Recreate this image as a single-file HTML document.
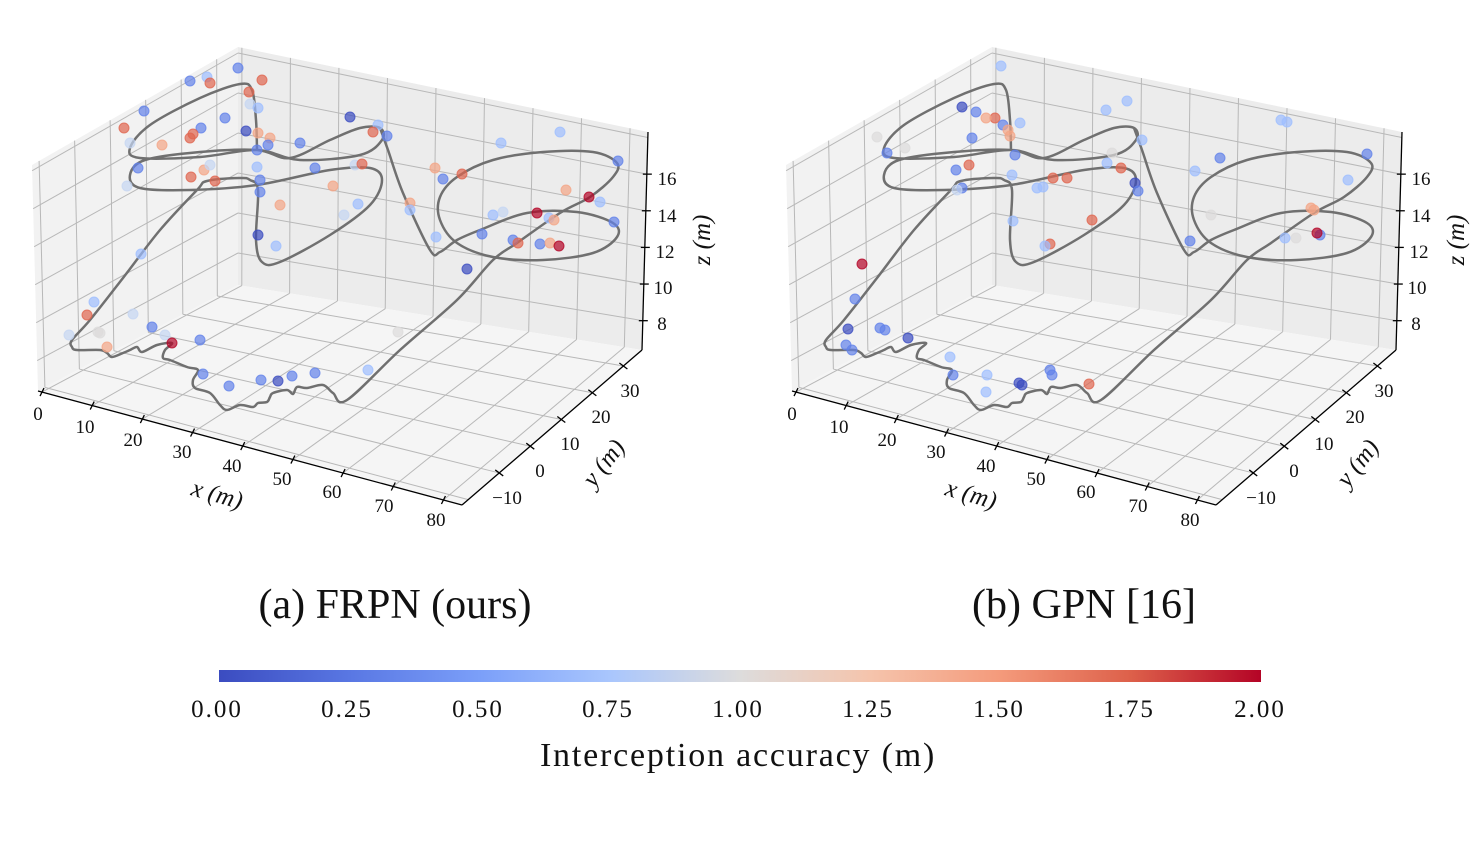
<!DOCTYPE html>
<html><head><meta charset="utf-8"><style>
body{margin:0;background:#fff;}
svg text{font-family:"Liberation Serif",serif;fill:#111;}
</style></head><body>
<svg id="s" width="1480" height="850" xmlns="http://www.w3.org/2000/svg">
<defs><linearGradient id="cw" x1="0" x2="1" y1="0" y2="0">
<stop offset="0" stop-color="#3b4cc0"/><stop offset="0.125" stop-color="#5977e3"/>
<stop offset="0.25" stop-color="#7b9ff9"/><stop offset="0.375" stop-color="#a9c6fd"/>
<stop offset="0.5" stop-color="#dddcdc"/><stop offset="0.625" stop-color="#f5c4ac"/>
<stop offset="0.75" stop-color="#f49a7b"/><stop offset="0.875" stop-color="#dd604a"/>
<stop offset="1" stop-color="#b40426"/></linearGradient></defs>
<g id="L"></g><g id="R" transform="translate(754,0)"></g>
<text x="395" y="618" font-size="42" text-anchor="middle">(a) FRPN (ours)</text>
<text x="1084" y="618" font-size="42" text-anchor="middle">(b) GPN [16]</text>
<rect x="219" y="670" width="1042" height="12" fill="url(#cw)"/>
<g font-size="25" text-anchor="middle" letter-spacing="2">
<text x="217" y="717">0.00</text><text x="347" y="717">0.25</text><text x="478" y="717">0.50</text>
<text x="608" y="717">0.75</text><text x="738" y="717">1.00</text><text x="868" y="717">1.25</text>
<text x="999" y="717">1.50</text><text x="1129" y="717">1.75</text><text x="1260" y="717">2.00</text></g>
<text x="738" y="766" font-size="34" text-anchor="middle" letter-spacing="1.8">Interception accuracy (m)</text>
</svg>
<script>
const NS="http://www.w3.org/2000/svg";
const xmin=-0.8,xmax=83.7,ymin=-22,ymax=36,zmin=6.4,zmax=18.3;
const C={"000":[38,391],"100":[462,505],"110":[642,350],"010":[238,285],"001":[32,165],"101":[464,262],"111":[648,132],"011":[238,47]};
function P(x,y,z){const u=(x-xmin)/(xmax-xmin),v=(y-ymin)/(ymax-ymin),w=(z-zmin)/(zmax-zmin);let r=[0,0];
for(const a of[0,1])for(const b of[0,1])for(const c of[0,1]){const k=(a?u:1-u)*(b?v:1-v)*(c?w:1-w);const p=C[""+a+b+c];r[0]+=k*p[0];r[1]+=k*p[1];}return r;}
function el(g,t,at,txt){const e=document.createElementNS(NS,t);for(const k in at)e.setAttribute(k,at[k]);if(txt!=null)e.textContent=txt;g.appendChild(e);return e;}
function poly(pts){return pts.map(p=>p.join(",")).join(" ");}
function cr(pts){let d="M"+pts[0].join(",");for(let i=0;i<pts.length-1;i++){const p0=pts[Math.max(0,i-1)],p1=pts[i],p2=pts[i+1],p3=pts[Math.min(pts.length-1,i+2)];
const c1=[p1[0]+(p2[0]-p0[0])/6,p1[1]+(p2[1]-p0[1])/6],c2=[p2[0]-(p3[0]-p1[0])/6,p2[1]-(p3[1]-p1[1])/6];d+="C"+c1.join(",")+" "+c2.join(",")+" "+p2.join(",");}return d;}
const path=[[257,150],[256,120],[252,90],[240,84],[200,98],[150,125],[130,148],[140,158],[200,157],[257,150],[300,160],[360,155],[382,140],[380,128],[360,128],[330,140],[290,158],[257,150],[200,152],[145,160],[130,175],[140,188],[190,190],[257,185],[330,170],[370,168],[382,180],[370,205],[330,235],[280,262],[262,262],[256,240],[258,190],[250,180],[240,178],[207,181],[197,190],[160,230],[123,278],[90,320],[72,340],[72,347],[77,350],[100,350],[107,353],[112,357],[123,353],[130,350],[137,347],[142,352],[157,345],[172,343],[165,350],[163,358],[170,360],[187,367],[198,370],[193,380],[195,388],[210,393],[220,405],[227,410],[240,405],[253,407],[258,403],[267,402],[270,397],[273,393],[287,390],[293,394],[297,387],[307,388],[323,385],[333,393],[347,400],[400,350],[457,300],[493,260],[517,243],[560,213],[590,197],[613,177],[617,163],[593,152],[543,152],[493,160],[457,177],[440,197],[440,220],[457,243],[493,257],[543,260],[593,253],[617,237],[613,223],[577,212],[527,213],[480,230],[457,240],[440,252],[430,250],[403,193],[388,150],[380,128]];
const col={db:"#3b4cc0",b:"#6282ea",lb:"#9ebeff",pb:"#c5d6f2",pa:"#dddcdc",lr:"#f4a586",r:"#e0654f",dr:"#b40426"};
const dotsL=[[238,68,"b"],[190,81,"b"],[207,77,"lb"],[210,83,"r"],[262,80,"r"],[249,92,"r"],[250,104,"pb"],[258,108,"lb"],[144,111,"b"],[124,128,"r"],[201,128,"b"],[225,118,"b"],[190,138,"r"],[193,134,"r"],[162,145,"lr"],[246,131,"db"],[258,133,"lr"],[270,138,"lr"],[268,145,"b"],[300,143,"b"],[130,143,"pb"],[257,150,"b"],[138,168,"b"],[127,186,"pb"],[191,177,"r"],[204,170,"lr"],[215,181,"r"],[210,165,"pb"],[257,167,"lb"],[260,180,"b"],[260,192,"b"],[280,205,"lr"],[258,235,"db"],[276,246,"lb"],[350,117,"db"],[378,125,"lb"],[373,132,"r"],[387,136,"b"],[315,168,"b"],[355,165,"pb"],[362,164,"r"],[333,186,"lr"],[344,215,"pb"],[358,204,"lb"],[410,203,"lr"],[410,210,"lb"],[435,168,"lr"],[443,179,"b"],[462,174,"r"],[501,143,"lb"],[560,132,"lb"],[618,161,"b"],[566,190,"lr"],[589,197,"dr"],[600,202,"lb"],[614,222,"b"],[493,215,"lb"],[503,212,"pb"],[537,213,"dr"],[549,218,"lb"],[554,220,"lr"],[436,237,"lb"],[482,234,"b"],[513,240,"b"],[518,243,"r"],[540,244,"b"],[550,243,"lr"],[559,246,"dr"],[467,269,"db"],[141,254,"lb"],[94,302,"lb"],[87,315,"r"],[69,335,"pb"],[98,332,"pa"],[100,333,"pa"],[107,347,"lr"],[133,314,"pb"],[152,327,"b"],[165,335,"pb"],[172,343,"dr"],[200,340,"b"],[203,374,"b"],[229,386,"b"],[261,380,"b"],[278,381,"db"],[292,376,"b"],[315,373,"b"],[368,370,"lb"],[398,332,"pa"]];
const dotsR=[[1001,66,"lb"],[962,107,"db"],[976,112,"b"],[995,118,"r"],[1003,125,"b"],[1020,123,"lb"],[1010,136,"lr"],[1008,130,"lr"],[986,118,"lr"],[877,137,"pa"],[905,148,"pa"],[887,153,"b"],[972,138,"b"],[1015,155,"b"],[956,170,"b"],[969,165,"r"],[962,188,"b"],[957,190,"pb"],[1012,175,"lb"],[1037,188,"lb"],[1043,187,"lb"],[1053,178,"r"],[1067,178,"r"],[1013,221,"lb"],[1050,244,"r"],[1045,246,"lb"],[1092,220,"r"],[1106,110,"lb"],[1127,101,"lb"],[1142,140,"lb"],[1112,153,"pa"],[1107,163,"lb"],[1121,168,"r"],[1135,183,"db"],[1138,191,"b"],[1195,171,"lb"],[1220,158,"b"],[1281,120,"lb"],[1287,122,"lb"],[1367,154,"b"],[1348,180,"lb"],[1311,208,"lr"],[1314,210,"lr"],[1211,215,"pa"],[1190,241,"b"],[1285,238,"lb"],[1296,238,"pa"],[1320,235,"b"],[1317,233,"dr"],[862,264,"dr"],[855,299,"b"],[848,329,"db"],[880,328,"b"],[885,330,"b"],[908,338,"db"],[846,345,"b"],[852,350,"b"],[950,357,"lb"],[953,375,"b"],[987,375,"lb"],[1019,383,"db"],[1022,385,"db"],[1050,370,"b"],[1052,375,"b"],[1089,384,"r"],[986,392,"lb"]].map(d=>[d[0]-754,d[1],d[2]]);
function panel(g,dots){
 el(g,"polygon",{points:poly([P(xmin,ymin,zmin),P(xmin,ymax,zmin),P(xmin,ymax,zmax),P(xmin,ymin,zmax)]),fill:"#f2f2f2"});
 el(g,"polygon",{points:poly([P(xmin,ymax,zmin),P(xmax,ymax,zmin),P(xmax,ymax,zmax),P(xmin,ymax,zmax)]),fill:"#ececec"});
 el(g,"polygon",{points:poly([P(xmin,ymin,zmin),P(xmax,ymin,zmin),P(xmax,ymax,zmin),P(xmin,ymax,zmin)]),fill:"#f5f5f5"});
 const gl={stroke:"#b8b8b8","stroke-width":1,fill:"none"};
 const L=(a,b)=>el(g,"polyline",Object.assign({points:poly([a,b])},gl));
 for(let x=0;x<=80;x+=10){L(P(x,ymin,zmin),P(x,ymax,zmin));L(P(x,ymax,zmin),P(x,ymax,zmax));}
 for(let y=-20;y<=30;y+=10){L(P(xmin,y,zmin),P(xmax,y,zmin));L(P(xmin,y,zmin),P(xmin,y,zmax));}
 for(let z=8;z<=18;z+=2){L(P(xmin,ymin,z),P(xmin,ymax,z));L(P(xmin,ymax,z),P(xmax,ymax,z));}
 const ax={stroke:"#000","stroke-width":1.3};
 el(g,"polyline",Object.assign({points:poly([P(xmin,ymin,zmin),P(xmax,ymin,zmin)])},ax));
 el(g,"polyline",Object.assign({points:poly([P(xmax,ymin,zmin),P(xmax,ymax,zmin)])},ax));
 el(g,"polyline",Object.assign({points:poly([P(xmax,ymax,zmin),P(xmax,ymax,zmax)])},ax));
 for(let x=0;x<=80;x+=10){const p=P(x,ymin,zmin);el(g,"line",Object.assign({x1:p[0]-2,y1:p[1]+4,x2:p[0]+2,y2:p[1]-4},ax));}
 for(let y=-10;y<=30;y+=10){const p=P(xmax,y,zmin);el(g,"line",Object.assign({x1:p[0]-4,y1:p[1]-3,x2:p[0]+4,y2:p[1]+3},ax));}
 for(let z=8;z<=16;z+=2){const p=P(xmax,ymax,z);el(g,"line",Object.assign({x1:p[0]-4,y1:p[1],x2:p[0]+5,y2:p[1]},ax));}
 el(g,"path",{d:cr(path),fill:"none",stroke:"#707070","stroke-width":2.5});
 for(const d of dots)el(g,"circle",{cx:d[0],cy:d[1],r:5,fill:col[d[2]],"fill-opacity":0.7,stroke:col[d[2]],"stroke-opacity":0.8});
 const xl=[[38,420,"0"],[85,433,"10"],[133,446,"20"],[182,458,"30"],[232,472,"40"],[282,485,"50"],[332,498,"60"],[384,512,"70"],[436,526,"80"]];
 for(const t of xl)el(g,"text",{x:t[0],y:t[1],"font-size":19,"text-anchor":"middle"},t[2]);
 const yl=[[507,504,"\u221210"],[540,477,"0"],[570,450,"10"],[601,423,"20"],[630,397,"30"]];
 for(const t of yl)el(g,"text",{x:t[0],y:t[1],"font-size":19,"text-anchor":"middle"},t[2]);
 const zl=[[667,185,"16"],[667,222,"14"],[665,258,"12"],[663,294,"10"],[662,330,"8"]];
 for(const t of zl)el(g,"text",{x:t[0],y:t[1],"font-size":19,"text-anchor":"middle"},t[2]);
 el(g,"text",{x:0,y:0,"font-size":25,"text-anchor":"middle",transform:"translate(215,502) rotate(16)","font-style":"italic"},"x (m)");
 el(g,"text",{x:0,y:0,"font-size":25,"text-anchor":"middle",transform:"translate(610,468) rotate(-52)","font-style":"italic"},"y (m)");
 el(g,"text",{x:0,y:0,"font-size":25,"text-anchor":"middle",transform:"translate(710,240) rotate(-90)","font-style":"italic"},"z (m)");
}
panel(document.getElementById("L"),dotsL);
panel(document.getElementById("R"),dotsR);
</script>
</body></html>
